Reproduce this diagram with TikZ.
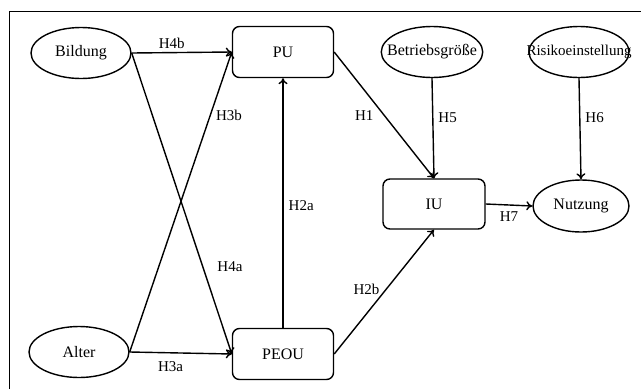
\documentclass[tikz,border=0pt]{standalone}
\usepackage{fontspec}
\setmainfont{Liberation Serif}
\usetikzlibrary{arrows.meta, shapes.geometric}

\begin{document}
\begin{tikzpicture}[x=1pt,y=-1pt]
	 \tikzstyle{construct}=[draw,line width=1.4pt,font=\fontsize{16}{19}\selectfont,inner sep=0pt]
	 \tikzstyle{latent} = [construct, ellipse, minimum width=100pt, minimum height=51pt]
	 \tikzstyle{model} = [construct, rectangle, rounded corners=7pt, minimum width=101pt, minimum height=51pt]
	 \tikzstyle{edge} = [draw,line width=1.4pt,-{To[length=6pt,width=9pt]},black]
	 \tikzstyle{hyp} = [font=\fontsize{15}{18}\selectfont,inner sep=2pt]
	 \useasboundingbox (0,0) rectangle (641,389);
	 \draw[line width=1pt] (9,389) -- (9,11) -- (641,11);
	 \node[latent] (bildung) at (81,53) {Bildung};
	 \node[latent] (alter) at (79,352) {Alter};
	 \node[model] (pu) at (283,52) {PU};
	 \node[model] (peou) at (283,354) {PEOU};
	 \node[latent, inner xsep=-9pt] (groesse) at (432,52) {Betriebsgröße};
	 \node[latent, inner xsep=-20pt, font=\fontsize{15}{18}\selectfont] (risiko) at (579,52) {Risikoeinstellung};
	 \node[model, minimum width=102pt, minimum height=50pt] (iu) at (434,204) {IU};
	 \node[latent, minimum width=96pt, minimum height=52pt] (nutzung) at (581,206) {Nutzung};
	 \draw[edge] (bildung.east) -- node[hyp, pos=0.4, above=1pt] {H4b} (pu.west);
	 \draw[edge] (bildung.east) -- node[hyp, pos=0.71, right=12pt] {H4a} (peou.west);
	 \draw[edge] (alter.east) -- node[hyp, pos=0.4, below=6pt] {H3a} (peou.west);
	 \draw[edge] (alter.east) -- node[hyp, pos=0.79, right=3pt] {H3b} (pu.west);
	 \draw[edge] (peou.north) -- node[hyp, pos=0.49, right=3pt] {H2a} (pu.south);
	 \draw[edge] (peou.east) -- node[hyp, pos=0.52, left=4pt] {H2b} (iu.south);
	 \draw[edge] (pu.east) -- node[hyp, pos=0.5, left=8pt] {H1} (iu.north);
	 \draw[edge] (groesse.south) -- node[hyp, pos=0.39, right=3pt] {H5} (iu.north);
	 \draw[edge] (risiko.south) -- node[hyp, pos=0.39, right=3pt] {H6} (nutzung.north);
	 \draw[edge] (iu.east) -- node[hyp, below=4pt] {H7} (nutzung.west);
 \end{tikzpicture}
\end{document}
